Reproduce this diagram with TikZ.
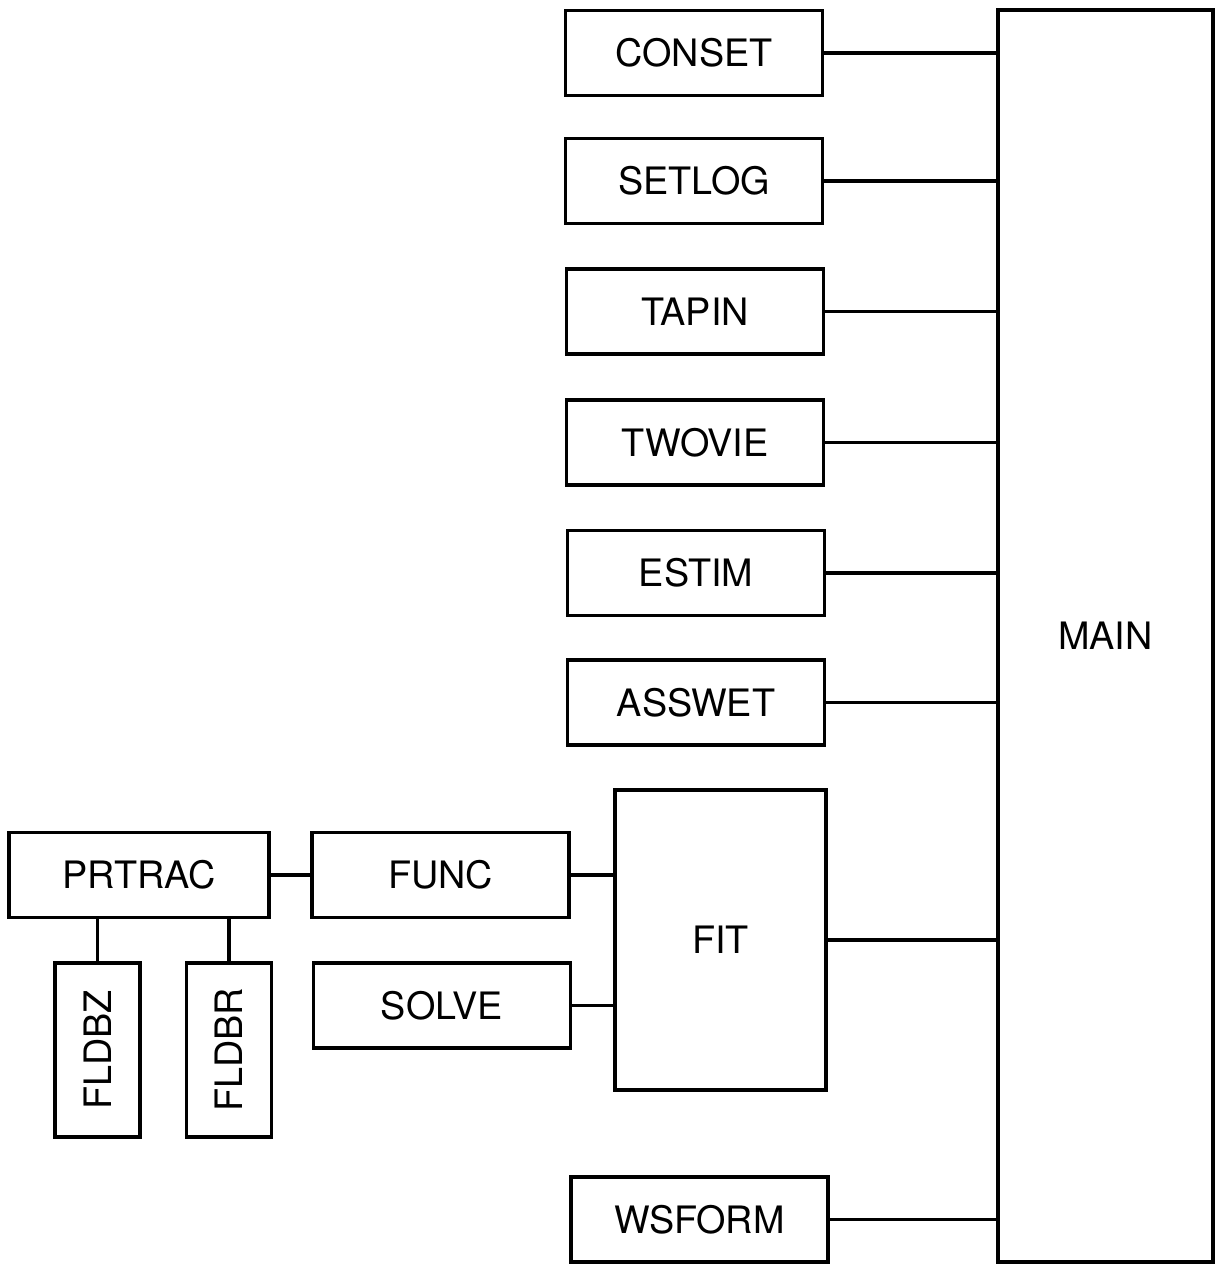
\documentclass[tikz,border=0pt]{standalone}
\usepackage{fontspec}
\setmainfont{TeX Gyre Heros}
\usetikzlibrary{positioning}

\begin{document}
\begin{tikzpicture}[
  x=0.02cm, y=-0.02cm,
  box/.style={draw, line width=1.9pt, align=center, inner sep=0pt,
    minimum width=5.14cm, minimum height=1.7cm,
    font=\fontsize{21.5}{24}\selectfont},
  tall/.style={box, minimum width=1.7cm, minimum height=3.48cm},
  wire/.style={line width=1.9pt}
]
\useasboundingbox (0,0) rectangle (1215,1264);
% main column
\node[box, minimum width=4.3cm, minimum height=25.04cm] (main) at (1105.5,636) {MAIN};
\node[box] (conset) at (694,53) {CONSET};
\node[box] (setlog) at (694,181) {SETLOG};
\node[box] (tapin) at (695,311.5) {TAPIN};
\node[box] (twovie) at (695,442.5) {TWOVIE};
\node[box] (estim) at (696,573) {ESTIM};
\node[box] (asswet) at (696,702.5) {ASSWET};
\node[box, minimum width=4.22cm, minimum height=6cm] (fit) at (720.5,940) {FIT};
\node[box] (wsform) at (699.5,1219.5) {WSFORM};
% fit branch
\node[box] (func) at (440.5,875) {FUNC};
\node[box] (solve) at (442,1005.5) {SOLVE};
\node[box, minimum width=5.2cm] (prtrac) at (139,875) {PRTRAC};
\node[tall] (fldbz) at (97.5,1050) {\rotatebox{90}{FLDBZ}};
\node[tall] (fldbr) at (229,1050) {\rotatebox{90}{FLDBR}};
\foreach \n in {conset,setlog,tapin,twovie,estim,asswet,fit,wsform}
  \draw[wire] (\n.east) -- (\n.east -| main.west);
\draw[wire] (func) -- (func -| fit.west);
\draw[wire] (solve) -- (solve -| fit.west);
\draw[wire] (prtrac) -- (func);
\draw[wire] (fldbz.north) -- (fldbz.north |- prtrac.south);
\draw[wire] (fldbr.north) -- (fldbr.north |- prtrac.south);
\end{tikzpicture}
\end{document}
